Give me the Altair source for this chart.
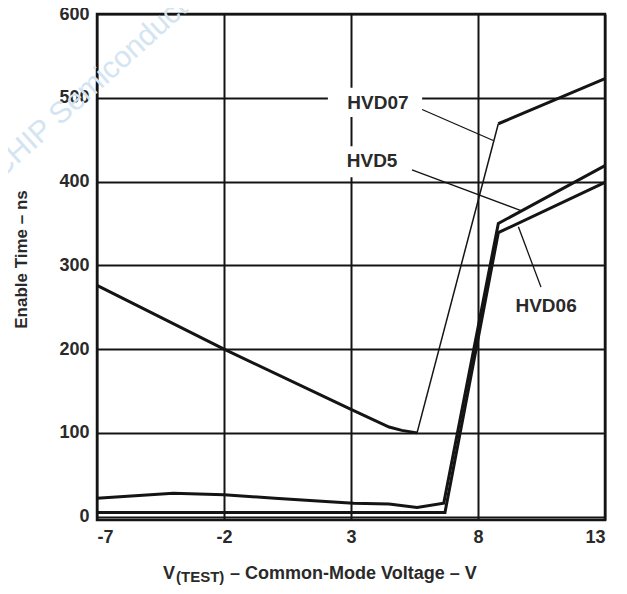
import altair as alt
import pandas as pd

# ---- data ----
x_ticks = [-7, -2, 3, 8, 13]
y_ticks = [0, 100, 200, 300, 400, 500, 600]

hvd07_x = [-7, -2, 3, 4.5, 5.0, 5.6, 8.8, 13]
hvd07_y = [276, 200, 128, 107, 103, 100, 469, 523]

hvd5_x = [-7, -4, -2, 0, 2, 3.1, 4.5, 5.6, 6.65, 8.8, 13]
hvd5_y = [22, 28, 26, 22, 18, 16, 15, 11, 16, 350, 419]

hvd06_x = [-7, 6.7, 8.8, 13]
hvd06_y = [5, 5, 339, 399]

label_text = ["HVD07", "HVD5", "HVD06"]
label_x = [4.06, 3.83, 10.68]
label_y = [494, 424, 252]

leader_x1 = [5.80, 5.40, 9.59]
leader_y1 = [486, 414, 346]
leader_x2 = [8.6, 9.72, 10.48]
leader_y2 = [449, 365, 274]

box_x1 = [2.09, 2.37]
box_x2 = [5.80, 5.13]
box_y1 = [477, 405]
box_y2 = [512, 442]

# ---- tables ----
thick_rows = []
# HVD07: thick up to its minimum, thin rise, thick after corner
for i in range(0, 6):
    thick_rows.append({"piece": "HVD07a", "x": hvd07_x[i], "y": hvd07_y[i]})
for i in range(6, 8):
    thick_rows.append({"piece": "HVD07b", "x": hvd07_x[i], "y": hvd07_y[i]})
for xv, yv in zip(hvd5_x, hvd5_y):
    thick_rows.append({"piece": "HVD5", "x": xv, "y": yv})
for xv, yv in zip(hvd06_x, hvd06_y):
    thick_rows.append({"piece": "HVD06", "x": xv, "y": yv})
thick_df = pd.DataFrame(thick_rows)

thin_df = pd.DataFrame({"piece": ["HVD07r", "HVD07r"],
                        "x": hvd07_x[5:7], "y": hvd07_y[5:7]})

labels_df = pd.DataFrame({"t": label_text, "x": label_x, "y": label_y})
leaders_df = pd.DataFrame({"x": leader_x1, "y": leader_y1,
                           "x2": leader_x2, "y2": leader_y2})
boxes_df = pd.DataFrame({"x": box_x1, "x2": box_x2, "y": box_y1, "y2": box_y2})

FONT = "Liberation Sans"
INK = "#141414"
TXT = "#2a2a2a"

xs = alt.Scale(domain=[-7, 13], nice=False, zero=False)
ys = alt.Scale(domain=[-4, 600], nice=False, zero=False)

xaxis = alt.Axis(values=x_ticks, title=None, grid=True, domain=False, ticks=False,
                 labelFontSize=18, labelFontWeight="bold", labelFont=FONT,
                 labelColor=TXT, labelPadding=8, labelExpr="'' + datum.value")
yaxis = alt.Axis(values=y_ticks, title="Enable Time – ns", grid=True, domain=False,
                 ticks=False, labelFontSize=18, labelFontWeight="bold", labelFont=FONT,
                 labelColor=TXT, labelPadding=8, titleFontSize=17,
                 titleFontWeight="bold", titleFont=FONT, titleColor=TXT,
                 titlePadding=28, titleY=245, labelExpr="'' + datum.value")

X = alt.X("x:Q", scale=xs, axis=xaxis)
Y = alt.Y("y:Q", scale=ys, axis=yaxis)

boxes = alt.Chart(boxes_df).mark_rect(color="white").encode(
    x=X, x2="x2:Q", y=Y, y2="y2:Q")

thick = alt.Chart(thick_df).mark_line(color=INK, strokeWidth=3).encode(
    x=X, y=Y, detail="piece:N", order=alt.Order("x:Q"))

thin = alt.Chart(thin_df).mark_line(color=INK, strokeWidth=1.5).encode(
    x=X, y=Y, detail="piece:N")

leaders = alt.Chart(leaders_df).mark_rule(color=INK, strokeWidth=1.3).encode(
    x=X, y=Y, x2="x2:Q", y2="y2:Q")

labels = alt.Chart(labels_df).mark_text(
    font=FONT, fontSize=19, fontWeight="bold", color=TXT,
    align="center", baseline="middle").encode(x=X, y=Y, text="t:N")

xt_v = alt.Chart(pd.DataFrame({"t": ["V"]})).mark_text(
    font=FONT, fontSize=18, fontWeight="bold", color=TXT, align="left",
    baseline="alphabetic").encode(x=alt.value(66), y=alt.value(565), text="t:N")
xt_sub = alt.Chart(pd.DataFrame({"t": ["(TEST)"]})).mark_text(
    font=FONT, fontSize=15, fontWeight="bold", color=TXT, align="left",
    baseline="alphabetic").encode(x=alt.value(79), y=alt.value(568), text="t:N")
xt_rest = alt.Chart(pd.DataFrame({"t": [" – Common-Mode Voltage – V"]})).mark_text(
    font=FONT, fontSize=18, fontWeight="bold", color=TXT, align="left",
    baseline="alphabetic").encode(x=alt.value(133), y=alt.value(565), text="t:N")

watermark = alt.Chart(pd.DataFrame({"t": ["CHIP Semiconductor"]})).mark_text(
    font=FONT, fontSize=30, color="#d3e4f2", align="left", baseline="bottom",
    angle=318).encode(x=alt.value(-92), y=alt.value(170), text="t:N")

chart = alt.layer(
    watermark, boxes, thick, thin, leaders, labels, xt_v, xt_sub, xt_rest
).properties(
    width=508, height=506,
    padding={"left": 89, "top": 6, "right": 14, "bottom": 66},
    autosize=alt.AutoSizeParams(type="none"),
).configure_view(
    stroke=INK, strokeWidth=2.5
).configure_axis(
    gridColor=INK, gridWidth=2, gridOpacity=1
)

chart.save("out.html", embed_options={"renderer": "svg", "actions": False})
